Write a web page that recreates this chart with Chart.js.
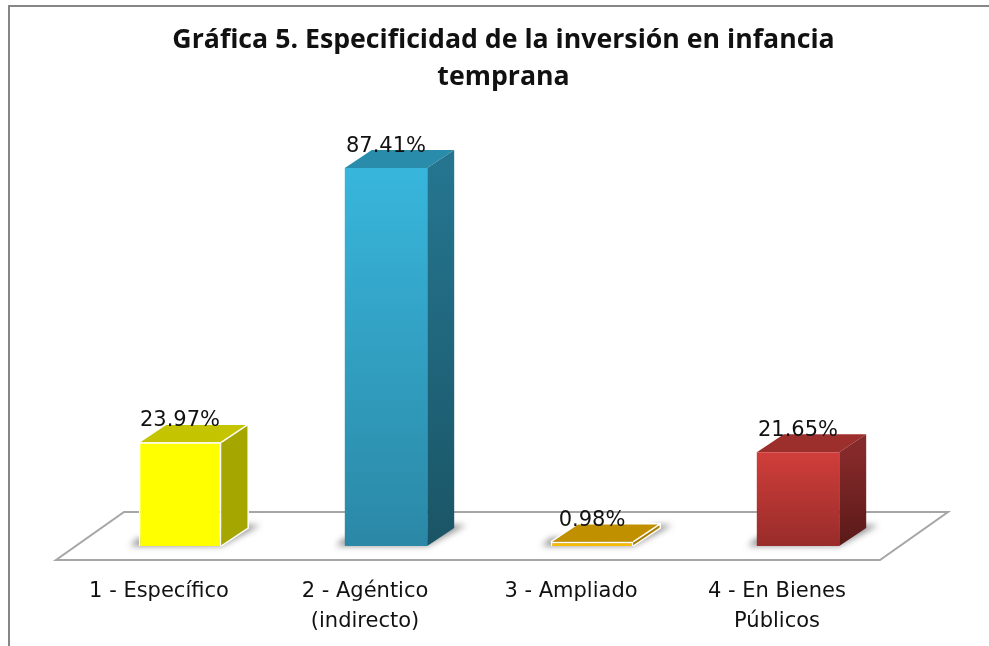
<!DOCTYPE html>
<html>
<head>
<meta charset="utf-8">
<script src="https://cdn.jsdelivr.net/npm/chart.js@4"></script>
<style>
  html, body { margin: 0; padding: 0; background: #fff; overflow: hidden; }
  #wrap { position: absolute; left: 0; top: 0; width: 989px; height: 646px; }
</style>
</head>
<body>
<div id="wrap"><canvas id="grafica" width="989" height="646"></canvas></div>
<script>
const categories = [['1 - Específico'], ['2 - Agéntico', '(indirecto)'], ['3 - Ampliado'], ['4 - En Bienes', 'Públicos']];
const values = [23.97, 87.41, 0.98, 21.65];
const titleLines = ['Gráfica 5. Especificidad de la inversión en infancia', 'temprana'];

const frontTop = ['#ffff00', '#38b6dc', '#f7bb05', '#d03e3a'];
const frontBottom = ['#ffff00', '#2b88a6', '#f7bb05', '#982c2a'];
const roofColors = ['#c4c400', '#2a8cab', '#c09000', '#9c2e2b'];
const sideTop = ['#a6a600', '#257590', '#a87e00', '#86292a'];
const sideBottom = ['#a6a600', '#1a5566', '#a87e00', '#591a18'];
const edgeColors = ['#ffffff', null, '#ffffff', null];

// depth of the fake 3d box
const DX = 27, DY = 18;

function gradientFor(chart, i, from, to) {
  const y = chart.scales.y;
  const g = chart.ctx.createLinearGradient(0, y.getPixelForValue(values[i]), 0, y.getPixelForValue(0));
  g.addColorStop(0, from[i]);
  g.addColorStop(1, to[i]);
  return g;
}

const box3d = {
  id: 'box3d',
  afterLayout(chart) {
    // title sits over the floor centre, not the category centre
    chart.titleBlock.left += 29;
  },
  beforeDraw(chart) {
    const c = chart.ctx;
    c.save();
    // frame
    c.strokeStyle = '#868686';
    c.lineWidth = 2;
    c.beginPath();
    c.moveTo(9, 646);
    c.lineTo(9, 6);
    c.lineTo(989, 6);
    c.stroke();
    c.restore();
  },
  beforeDatasetsDraw(chart) {
    const c = chart.ctx;
    const base = chart.scales.y.getPixelForValue(0);
    const l = chart.chartArea.left, r = chart.chartArea.right;
    c.save();
    // floor
    c.fillStyle = '#ffffff';
    c.strokeStyle = '#a6a6a6';
    c.lineWidth = 2;
    c.beginPath();
    c.moveTo(l - 21, base + 14);
    c.lineTo(r - 21, base + 14);
    c.lineTo(r + 47, base - 34);
    c.lineTo(l + 47, base - 34);
    c.closePath();
    c.fill();
    c.stroke();

    chart.getDatasetMeta(0).data.forEach((bar, i) => {
      const x0 = bar.x - bar.width / 2, x1 = bar.x + bar.width / 2;
      const top = bar.y;
      // shadow on the floor
      c.save();
      c.filter = 'blur(3px)';
      c.fillStyle = 'rgba(70,70,70,0.6)';
      c.beginPath();
      c.moveTo(x0 - 9, base);
      c.lineTo(x1, base);
      c.lineTo(x1 + DX + 12, base - DY - 3);
      c.lineTo(x1 + DX - 5, base - DY - 3);
      c.lineTo(x1, base - 5);
      c.lineTo(x0, base - 8);
      c.closePath();
      c.fill();
      c.restore();
      // roof
      c.fillStyle = roofColors[i];
      c.beginPath();
      c.moveTo(x0, top);
      c.lineTo(x0 + DX, top - DY);
      c.lineTo(x1 + DX, top - DY);
      c.lineTo(x1, top);
      c.closePath();
      c.fill();
      // side
      c.fillStyle = gradientFor(chart, i, sideTop, sideBottom);
      c.beginPath();
      c.moveTo(x1, top);
      c.lineTo(x1 + DX, top - DY);
      c.lineTo(x1 + DX, base - DY);
      c.lineTo(x1, base);
      c.closePath();
      c.fill();
      if (edgeColors[i]) {
        c.strokeStyle = edgeColors[i];
        c.lineWidth = 1.5;
        c.beginPath();
        c.moveTo(x0, top);
        c.lineTo(x0 + DX, top - DY);
        c.lineTo(x1 + DX, top - DY);
        c.lineTo(x1 + DX, base - DY);
        c.lineTo(x1, base);
        c.moveTo(x1 + DX, top - DY);
        c.lineTo(x1, top);
        c.stroke();
      }
    });
    c.restore();
  },
  afterDatasetsDraw(chart) {
    const c = chart.ctx;
    c.save();
    c.fillStyle = '#111111';
    c.font = '21px "DejaVu Sans"';
    c.textAlign = 'center';
    c.textBaseline = 'alphabetic';
    chart.getDatasetMeta(0).data.forEach((bar, i) => {
      c.fillText(values[i].toFixed(2) + '%', bar.x, bar.y - 16);
    });
    c.restore();
  }
};

new Chart(document.getElementById('grafica'), {
  type: 'bar',
  data: {
    labels: categories,
    datasets: [{
      data: values,
      backgroundColor(ctx) {
        if (!ctx.chart.chartArea) return frontTop[ctx.dataIndex];
        return gradientFor(ctx.chart, ctx.dataIndex, frontTop, frontBottom);
      },
      borderColor: ctx => edgeColors[ctx.dataIndex] || 'rgba(0,0,0,0)',
      borderWidth: ctx => edgeColors[ctx.dataIndex] ? 1.5 : 0,
      categoryPercentage: 1,
      barPercentage: 0.4
    }]
  },
  options: {
    responsive: false,
    animation: false,
    layout: { padding: { left: 77, right: 88, top: 0, bottom: 0 } },
    plugins: {
      legend: { display: false },
      tooltip: { enabled: false },
      title: {
        display: true,
        text: titleLines,
        color: '#111111',
        font: { family: '"Open Sans"', size: 26.7, weight: 'bold', lineHeight: 1.42 },
        padding: { top: 21, bottom: 16.6 }
      }
    },
    scales: {
      x: {
        afterFit(scale) { scale.height = 100; },
        grid: { display: false },
        border: { display: false },
        ticks: {
          color: '#111111',
          font: { family: '"DejaVu Sans"', size: 21, lineHeight: 1.43 },
          labelOffset: -21,
          padding: 23,
          maxRotation: 0,
          autoSkip: false
        }
      },
      y: {
        display: false,
        min: 0,
        max: 100
      }
    }
  },
  plugins: [box3d]
});
</script>
</body>
</html>
